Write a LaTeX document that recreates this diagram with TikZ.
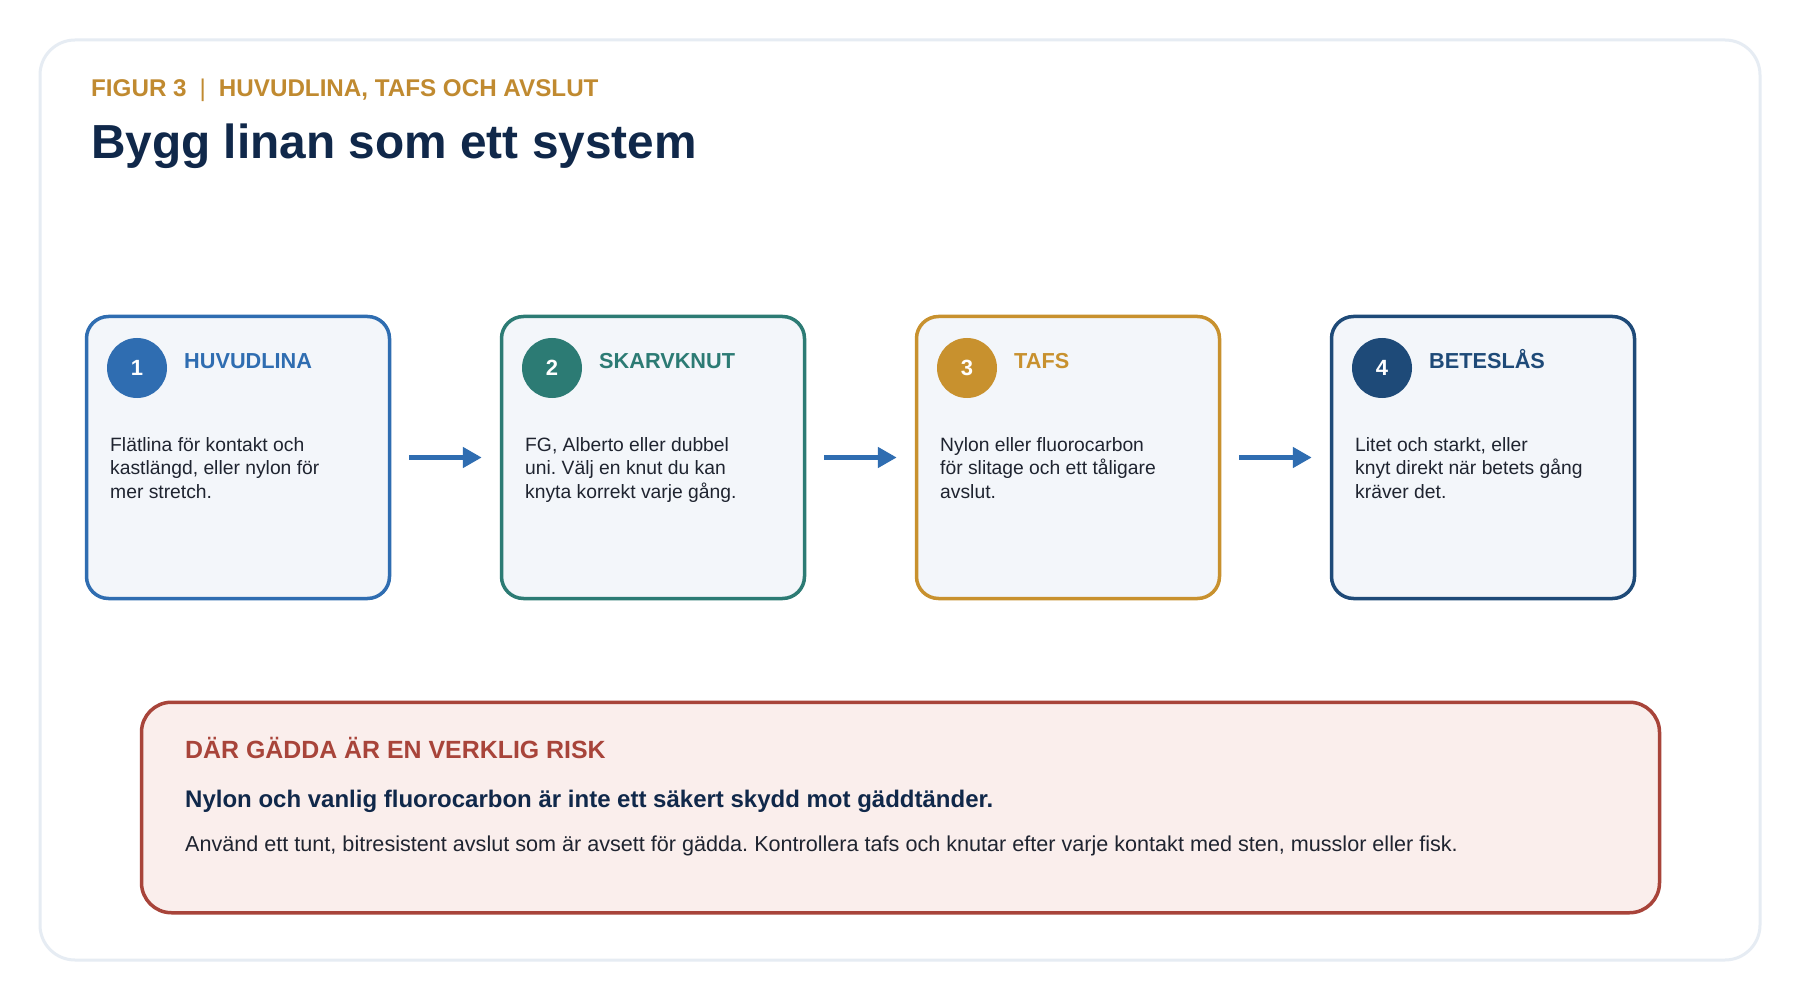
\documentclass[tikz,border=0pt]{standalone}
\usepackage{fontspec}
\setmainfont{Liberation Sans}
\usetikzlibrary{arrows.meta}
\frenchspacing
\definecolor{framec}{HTML}{E6ECF3}
\definecolor{goldc}{HTML}{C08A30}
\definecolor{titlec}{HTML}{10284A}
\definecolor{bluec}{HTML}{2F6DB1}
\definecolor{tealc}{HTML}{2C7B74}
\definecolor{ambc}{HTML}{C8912E}
\definecolor{navyc}{HTML}{1E4A78}
\definecolor{cardfill}{HTML}{F3F6FA}
\definecolor{bodyc}{HTML}{1F2430}
\definecolor{redc}{HTML}{A8443A}
\definecolor{redfill}{HTML}{FAEEEC}
\tikzset{
  card/.style={draw=#1, line width=3.5pt, fill=cardfill, rounded corners=22pt,
    minimum width=303pt, minimum height=282pt, inner sep=0pt},
  badge/.style={circle, fill=#1, minimum size=60pt, inner sep=0pt, text=white,
    font=\fontsize{22}{26}\selectfont\bfseries},
  cardhead/.style={anchor=base west, inner sep=0pt, text=#1,
    font=\fontsize{21.7}{26}\selectfont\bfseries},
  cardbody/.style={anchor=north west, inner sep=0pt, align=left, text=bodyc,
    font=\fontsize{19.3}{23.5}\selectfont},
  flow/.style={draw=bluec, line width=5.5pt, -{Triangle[length=19pt,width=20pt]}},
  txt/.style={anchor=base west, inner sep=0pt}
}
\begin{document}
\begin{tikzpicture}[x=1pt,y=-1pt]
\useasboundingbox (0,0) rectangle (1800,1000);
\fill[white] (0,0) rectangle (1800,1000);
\draw[framec, line width=3pt, rounded corners=35pt] (40,40) rectangle (1760,960);

\node[txt, text=goldc, font=\fontsize{24.2}{28}\selectfont\bfseries] (hdr) at (91,97)
  {FIGUR 3\hspace{13pt}{\mdseries|}\hspace{13pt}HUVUDLINA, TAFS OCH AVSLUT};
\node[txt, text=titlec, font=\fontsize{47.8}{56}\selectfont\bfseries] (title) at (91,159)
  {Bygg linan som ett system};

% cards
\node[card=bluec] (b1) at (238,457.5) {};
\node[card=tealc] (b2) at (653,457.5) {};
\node[card=ambc]  (b3) at (1068,457.5) {};
\node[card=navyc] (b4) at (1483,457.5) {};

\node[badge=bluec] (n1) at (137,368) {1};
\node[badge=tealc] (n2) at (552,368) {2};
\node[badge=ambc]  (n3) at (967,368) {3};
\node[badge=navyc] (n4) at (1382,368) {4};

\node[cardhead=bluec] (h1) at (184,369) {HUVUDLINA};
\node[cardhead=tealc] (h2) at (599,369) {SKARVKNUT};
\node[cardhead=ambc]  (h3) at (1014,369) {TAFS};
\node[cardhead=navyc] (h4) at (1429,369) {BETESLÅS};

\node[cardbody] (t1) at (110,435) {\rule{0pt}{16pt}Flätlina för kontakt och\\kastlängd, eller nylon för\\mer stretch.};
\node[cardbody] (t2) at (525,435) {\rule{0pt}{16pt}FG, Alberto eller dubbel\\uni. Välj en knut du kan\\knyta korrekt varje gång.};
\node[cardbody] (t3) at (940,435) {\rule{0pt}{16pt}Nylon eller fluorocarbon\\för slitage och ett tåligare\\avslut.};
\node[cardbody] (t4) at (1355,435) {\rule{0pt}{16pt}Litet och starkt, eller\\knyt direkt när betets gång\\kräver det.};

\draw[flow] ([xshift=18pt]b1.east) -- ([xshift=-18pt]b2.west);
\draw[flow] ([xshift=18pt]b2.east) -- ([xshift=-18pt]b3.west);
\draw[flow] ([xshift=18pt]b3.east) -- ([xshift=-18pt]b4.west);

% warning box
\node[draw=redc, line width=3.5pt, fill=redfill, rounded corners=30pt,
  minimum width=1518pt, minimum height=210.5pt, inner sep=0pt] (warn) at (900.5,807.5) {};
\node[txt, text=redc, font=\fontsize{24.9}{29}\selectfont\bfseries] (w1) at (185,758)
  {DÄR GÄDDA ÄR EN VERKLIG RISK};
\node[txt, text=titlec, font=\fontsize{24}{29}\selectfont\bfseries] (w2) at (185,807)
  {Nylon och vanlig fluorocarbon är inte ett säkert skydd mot gäddtänder.};
\node[txt, text=bodyc, font=\fontsize{21.6}{26}\selectfont] (w3) at (185,851)
  {Använd ett tunt, bitresistent avslut som är avsett för gädda. Kontrollera tafs och knutar efter varje kontakt med sten, musslor eller fisk.};
\end{tikzpicture}
\end{document}
